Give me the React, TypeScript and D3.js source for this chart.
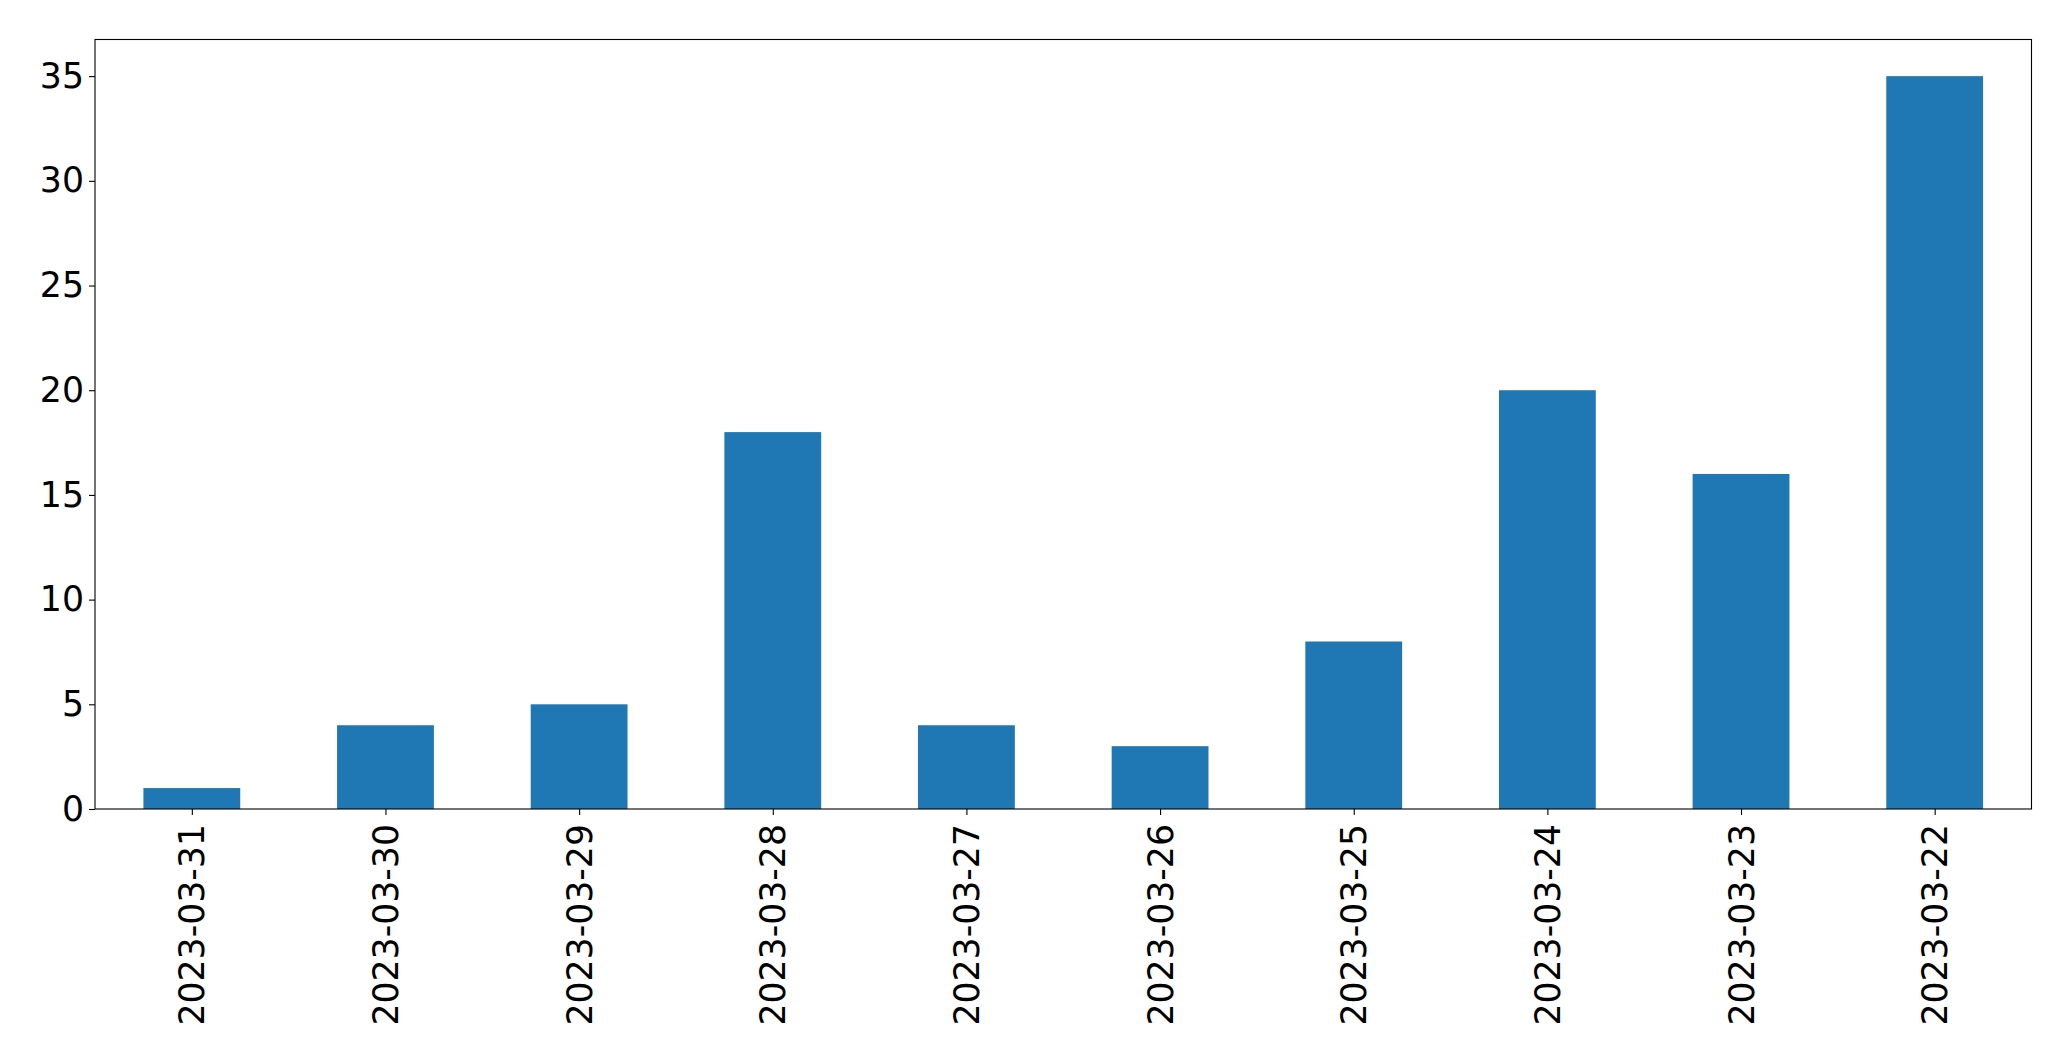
import * as React from 'react';
import * as d3 from 'd3';

const dates = [
  '2023-03-31',
  '2023-03-30',
  '2023-03-29',
  '2023-03-28',
  '2023-03-27',
  '2023-03-26',
  '2023-03-25',
  '2023-03-24',
  '2023-03-23',
  '2023-03-22',
];

const counts = [1, 4, 5, 18, 4, 3, 8, 20, 16, 35];

const yTicks = [0, 5, 10, 15, 20, 25, 30, 35];

const WIDTH = 2071;
const HEIGHT = 1061;
const BAR_COLOR = '#1f77b4';
const FONT = '"DejaVu Sans", sans-serif';

export default function App() {
  const ref = React.useRef<SVGSVGElement>(null);

  React.useEffect(() => {
    const el = ref.current;
    if (!el) return;
    const svg = d3.select(el);
    svg.selectAll('*').remove();

    const margin = { left: 95, right: 39.5, top: 39.5, bottom: 252 };
    const x0 = margin.left;
    const x1 = WIDTH - margin.right;
    const y0 = HEIGHT - margin.bottom;
    const y1 = margin.top;

    // categorical positions like pandas: index -0.5..n-0.5, bar width 0.5
    const x = d3.scaleLinear().domain([-0.5, dates.length - 0.5]).range([x0, x1]);
    const yMax = d3.max(counts)! * 1.05;
    const y = d3.scaleLinear().domain([0, yMax]).range([y0, y1]);

    const data = dates.map((d, i) => ({ date: d, value: counts[i], i }));

    svg
      .append('g')
      .selectAll('rect')
      .data(data)
      .enter()
      .append('rect')
      .attr('x', (d) => x(d.i - 0.25))
      .attr('width', (d) => x(d.i + 0.25) - x(d.i - 0.25))
      .attr('y', (d) => y(d.value))
      .attr('height', (d) => y(0) - y(d.value))
      .attr('fill', BAR_COLOR);

    // frame
    svg
      .append('rect')
      .attr('x', x0)
      .attr('y', y1)
      .attr('width', x1 - x0)
      .attr('height', y0 - y1)
      .attr('fill', 'none')
      .attr('stroke', '#000')
      .attr('stroke-width', 1.1);

    // y axis
    const yAxis = d3
      .axisLeft(y)
      .tickValues(yTicks)
      .tickSize(6)
      .tickPadding(5)
      .tickFormat(d3.format('d'));
    const gy = svg.append('g').attr('transform', `translate(${x0},0)`).call(yAxis);
    gy.select('.domain').remove();
    gy.selectAll('line').attr('stroke', '#000').attr('stroke-width', 1.1);
    gy.selectAll('text')
      .attr('fill', '#000')
      .style('font-family', FONT)
      .style('font-size', '34.7px');

    // x axis
    const xAxis = d3
      .axisBottom(x)
      .tickValues(data.map((d) => d.i))
      .tickSize(6)
      .tickFormat((i) => dates[i as number]);
    const gx = svg.append('g').attr('transform', `translate(0,${y0})`).call(xAxis);
    gx.select('.domain').remove();
    gx.selectAll('line').attr('stroke', '#000').attr('stroke-width', 1.1);
    gx.selectAll('text')
      .attr('fill', '#000')
      .attr('transform', 'rotate(-90)')
      .attr('text-anchor', 'end')
      .attr('x', -15)
      .attr('y', 0)
      .attr('dy', '0.35em')
      .style('font-family', FONT)
      .style('font-size', '34.7px');

    return () => {
      svg.selectAll('*').remove();
    };
  }, []);

  return (
    <svg
      ref={ref}
      width={WIDTH}
      height={HEIGHT}
      style={{ position: 'absolute', left: 0, top: 0, background: '#fff' }}
    />
  );
}
